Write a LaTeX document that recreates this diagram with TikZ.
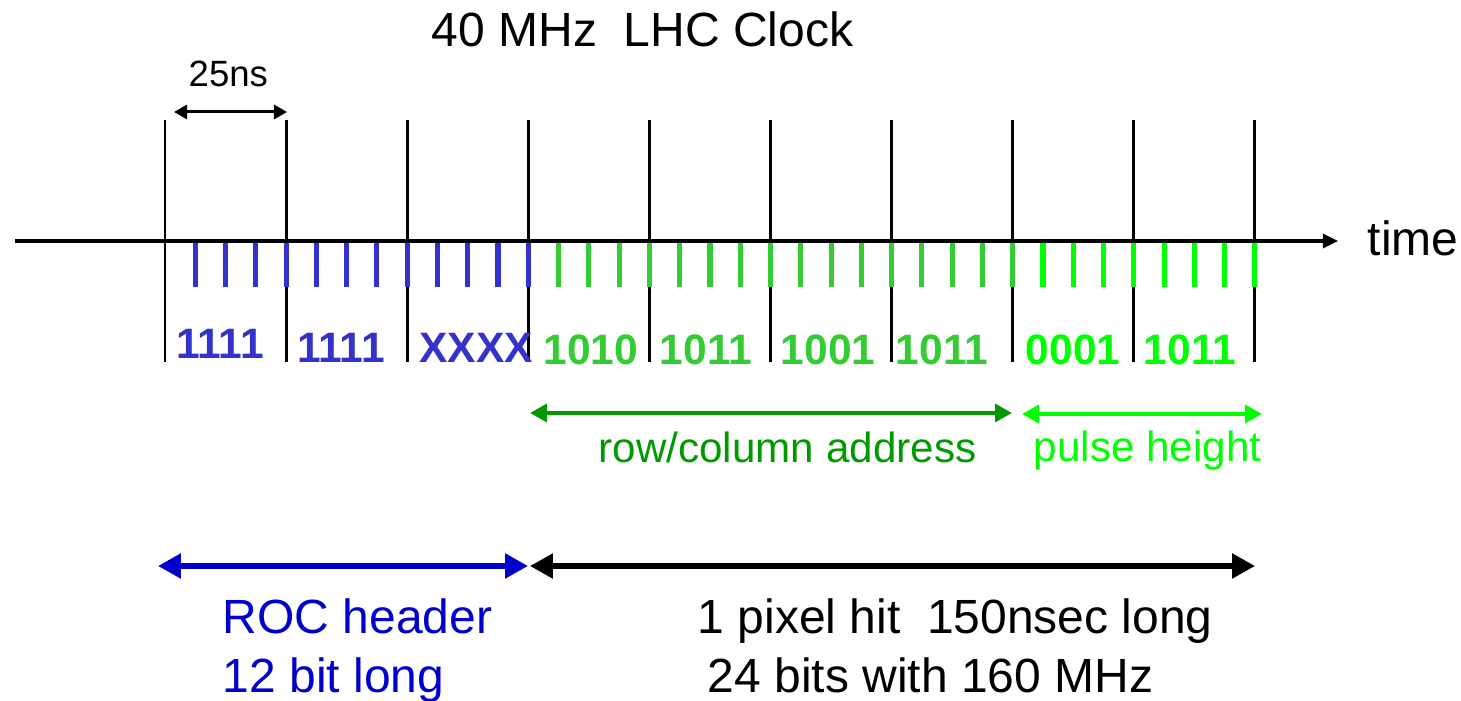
\documentclass[tikz,border=0pt]{standalone}
\usepackage{fontspec}
\setmainfont{Liberation Sans}
\usetikzlibrary{arrows.meta}
\definecolor{bitblue}{RGB}{51,51,204}
\definecolor{bitgreen}{RGB}{51,204,51}
\definecolor{phgreen}{RGB}{0,255,0}
\definecolor{addrgreen}{RGB}{0,153,0}
\definecolor{rocblue}{RGB}{0,0,204}
\begin{document}
\begin{tikzpicture}[x=0.01cm, y=-0.01cm,
      clk/.style={line width=0.85pt},
      tick/.style={line width=1.45pt},
      bits/.style={font=\fontsize{12.1}{14}\selectfont\bfseries, anchor=base},
      big/.style={font=\fontsize{13.65}{16}\selectfont, anchor=base west, inner sep=0pt},
      mid/.style={font=\fontsize{12}{14}\selectfont, anchor=base west, inner sep=0pt},
      span/.style={line width=1.2pt, {Triangle[length=4.8pt,width=5pt]}-{Triangle[length=4.8pt,width=5pt]}},
      wide/.style={line width=1.5pt, {Triangle[length=6.5pt,width=6.8pt]}-{Triangle[length=6.5pt,width=6.8pt]}}]
    \useasboundingbox (0,0) rectangle (1461,701);
    \node[big] (title) at (431,47) {40 MHz\ \ LHC Clock};
    % clock edges, one every 25ns
    \foreach \i in {0,...,9}
      \draw[clk] ({165+121.1*\i},120) -- ({165+121.1*\i},362);
    % bit ticks at 160 MHz
    \foreach \k in {1,...,12}
      \draw[tick, bitblue] ({165+30.275*\k},242) -- ++(0,45);
    \foreach \k in {13,...,28}
      \draw[tick, bitgreen] ({165+30.275*\k},242) -- ++(0,45);
    \foreach \k in {29,...,36}
      \draw[tick, phgreen] ({165+30.275*\k},242) -- ++(0,45);
    \coordinate (axisL) at (15,241);
    \coordinate (axisR) at (1338,241);
    \draw[line width=0.9pt, -{Triangle[length=4.3pt,width=4pt]}] (axisL) -- (axisR);
    \node[big] (time) at (1367,256) {time};
    % one clock period
    \coordinate (perL) at (174,112);
    \coordinate (perR) at (287,112);
    \draw[line width=0.85pt, {Triangle[length=3.7pt,width=4pt]}-{Triangle[length=3.7pt,width=4pt]}] (perL) -- (perR);
    \node[font=\fontsize{10.4}{12}\selectfont, anchor=base west, inner sep=0pt] (per) at (188,87) {25ns};
    % bit values
    \node[bits, bitblue] (h1) at (220,359) {1111};
    \node[bits, bitblue] (h2) at (341,363) {1111};
    \node[bits, bitblue] (h3) at (476,363) {XXXX};
    \node[bits, bitgreen] (a1) at (591,365) {1010};
    \node[bits, bitgreen] (a2) at (706,365) {1011};
    \node[bits, bitgreen] (a3) at (828,365) {1001};
    \node[bits, bitgreen] (a4) at (942,365) {1011};
    \node[bits, phgreen] (p1) at (1073,365) {0001};
    \node[bits, phgreen] (p2) at (1190,365) {1011};
    % fields
    \coordinate (addrL) at (530,413);
    \coordinate (addrR) at (1012,413);
    \draw[span, addrgreen] (addrL) -- (addrR);
    \node[mid, addrgreen] (addr) at (598,463) {row/column address};
    \coordinate (phL) at (1022,414);
    \coordinate (phR) at (1262,414);
    \draw[span, phgreen] (phL) -- (phR);
    \node[mid, phgreen] (ph) at (1033,462) {pulse height};
    % header and hit
    \coordinate (rocL) at (158,566);
    \coordinate (rocR) at (528,566);
    \coordinate (hitR) at (1255,566);
    \draw[wide, rocblue] (rocL) -- (rocR);
    \draw[wide] (rocR) ++(2,0) -- (hitR);
    \node[big, rocblue] (roc) at (222,634) {ROC header};
    \node[big, rocblue] (roclen) at (222,693) {12 bit long};
    \node[big] (hit) at (697,634) {1 pixel hit\ \ 150nsec long};
    \node[big] (hitlen) at (707,693) {24 bits with 160 MHz};
  \end{tikzpicture}
\end{document}
